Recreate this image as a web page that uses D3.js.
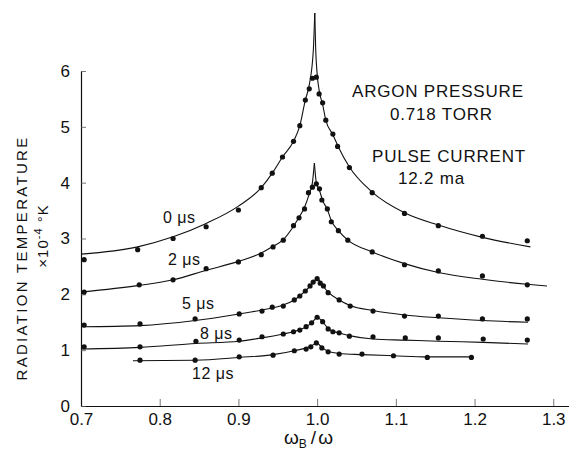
<!DOCTYPE html>
<html>
<head>
<meta charset="utf-8">
<script src="https://cdn.jsdelivr.net/npm/d3@7/dist/d3.min.js"></script>
<style>
  html, body { margin: 0; padding: 0; background: #fff; }
  svg { display: block; }
  text { font-family: "Liberation Sans", Arial, sans-serif; fill: #111; }
</style>
</head>
<body>
<svg id="chart" width="569" height="453"></svg>
<script>
// Axis ticks
const xTicks = [0.7, 0.8, 0.9, 1.0, 1.1, 1.2, 1.3];
const yTicks = [0, 1, 2, 3, 4, 5, 6];

// Delay after the pulse, one entry per curve
const delays = ["0", "2", "5", "8", "12"];

// Measured radiation temperature (×10^4 °K) against ωB/ω
const meas0 = [[0.704,2.62],[0.772,2.80],[0.817,3.00],[0.859,3.21],[0.900,3.51],[0.929,3.91],[0.943,4.17],[0.956,4.46],[0.970,4.74],[0.978,5.02],[0.985,5.48],[0.990,5.68],[0.994,5.87],[0.999,5.89],[1.0025,5.59],[1.007,5.43],[1.011,5.12],[1.020,4.87],[1.026,4.65],[1.041,4.27],[1.070,3.82],[1.111,3.45],[1.154,3.23],[1.210,3.04],[1.267,2.96]];
const meas2 = [[0.704,2.04],[0.774,2.17],[0.817,2.26],[0.859,2.46],[0.900,2.58],[0.929,2.71],[0.944,2.85],[0.957,2.97],[0.970,3.23],[0.977,3.37],[0.984,3.53],[0.989,3.82],[0.994,3.92],[0.999,3.98],[1.003,3.89],[1.006,3.69],[1.013,3.53],[1.018,3.30],[1.027,3.14],[1.039,2.97],[1.070,2.76],[1.111,2.53],[1.154,2.42],[1.210,2.33],[1.267,2.17]];
const meas5 = [[0.704,1.45],[0.775,1.47],[0.845,1.56],[0.901,1.65],[0.930,1.70],[0.943,1.77],[0.957,1.79],[0.971,1.90],[0.978,1.97],[0.985,2.06],[0.991,2.15],[0.995,2.22],[1.000,2.28],[1.004,2.20],[1.008,2.15],[1.014,2.03],[1.028,1.90],[1.042,1.79],[1.071,1.70],[1.111,1.61],[1.154,1.61],[1.210,1.56],[1.267,1.56]];
const meas8 = [[0.704,1.06],[0.775,1.06],[0.846,1.16],[0.901,1.18],[0.930,1.24],[0.957,1.29],[0.970,1.33],[0.978,1.36],[0.986,1.42],[0.993,1.49],[1.000,1.59],[1.007,1.51],[1.014,1.38],[1.020,1.33],[1.028,1.31],[1.041,1.25],[1.071,1.24],[1.112,1.22],[1.154,1.22],[1.211,1.20],[1.267,1.18]];
const meas12 = [[0.775,0.82],[0.845,0.82],[0.901,0.88],[0.944,0.91],[0.971,0.99],[0.986,1.02],[0.992,1.06],[0.999,1.13],[1.006,1.04],[1.014,0.97],[1.028,0.93],[1.057,0.93],[1.097,0.90],[1.140,0.87],[1.196,0.87]];

// Fitted curves through the measurements
const fit0 = [[0.700,2.72],[0.772,2.85],[0.817,3.03],[0.859,3.27],[0.900,3.58],[0.929,3.91],[0.943,4.17],[0.956,4.46],[0.970,4.74],[0.978,5.02],[0.985,5.48],[0.990,5.75],[0.9952,6.38],[0.997,7.04],[0.9982,6.38],[1.000,5.95],[1.003,5.62],[1.007,5.40],[1.011,5.12],[1.020,4.86],[1.027,4.64],[1.041,4.28],[1.070,3.83],[1.111,3.46],[1.154,3.24],[1.210,3.02],[1.271,2.85]];
const fit2 = [[0.700,2.04],[0.774,2.16],[0.817,2.26],[0.859,2.43],[0.900,2.59],[0.929,2.74],[0.944,2.86],[0.957,2.98],[0.970,3.22],[0.977,3.38],[0.984,3.56],[0.990,3.80],[0.994,4.00],[0.9965,4.35],[0.999,4.00],[1.003,3.86],[1.007,3.68],[1.013,3.52],[1.018,3.32],[1.027,3.14],[1.039,2.97],[1.070,2.76],[1.111,2.55],[1.154,2.39],[1.210,2.27],[1.267,2.18],[1.292,2.15]];
const fit5 = [[0.700,1.42],[0.775,1.44],[0.845,1.53],[0.901,1.65],[0.930,1.72],[0.957,1.81],[0.971,1.90],[0.985,2.06],[0.995,2.21],[1.000,2.31],[1.004,2.22],[1.008,2.14],[1.014,2.04],[1.028,1.90],[1.042,1.80],[1.071,1.71],[1.111,1.63],[1.154,1.58],[1.210,1.53],[1.268,1.50]];
const fit8 = [[0.700,1.02],[0.775,1.05],[0.846,1.12],[0.901,1.16],[0.930,1.22],[0.957,1.29],[0.970,1.33],[0.986,1.42],[0.993,1.49],[1.000,1.60],[1.007,1.51],[1.014,1.39],[1.020,1.34],[1.028,1.31],[1.041,1.26],[1.071,1.20],[1.111,1.18],[1.154,1.16],[1.211,1.14],[1.268,1.11]];
const fit12 = [[0.766,0.81],[0.845,0.82],[0.901,0.87],[0.944,0.92],[0.971,0.99],[0.990,1.06],[1.000,1.14],[1.006,1.05],[1.014,0.98],[1.028,0.94],[1.057,0.92],[1.097,0.90],[1.140,0.88],[1.197,0.88]];

const measured = [meas0, meas2, meas5, meas8, meas12];
const fitted = [fit0, fit2, fit5, fit8, fit12];

const svg = d3.select("#chart");

const x = d3.scaleLinear().domain([0.7, 1.32]).range([81, 569]);
const y = d3.scaleLinear().domain([0, 6]).range([406, 71]);

// X axis: ticks pointing up into the plot
const xAxis = svg.append("g")
  .attr("transform", `translate(0,${y(0)})`)
  .call(d3.axisBottom(x).tickValues(xTicks).tickFormat(d3.format(".1f"))
    .tickSizeInner(-7).tickSizeOuter(0).tickPadding(7));
xAxis.select(".domain").attr("stroke", "#111").attr("stroke-width", 1.2);
xAxis.selectAll(".tick line").attr("stroke", "#555").attr("stroke-width", 0.8);
xAxis.selectAll(".tick text").attr("font-size", 17).attr("font-family", "Liberation Sans, Arial, sans-serif").attr("fill", "#111");

// Y axis: ticks pointing right into the plot
const yAxis = svg.append("g")
  .attr("transform", `translate(${x(0.7)},0)`)
  .call(d3.axisLeft(y).tickValues(yTicks).tickFormat(d3.format("d"))
    .tickSizeInner(-5).tickSizeOuter(0).tickPadding(11));
yAxis.select(".domain").attr("stroke", "#111").attr("stroke-width", 1.2);
yAxis.selectAll(".tick line").attr("stroke", "#555").attr("stroke-width", 0.8);
yAxis.selectAll(".tick text").attr("font-size", 17).attr("font-family", "Liberation Sans, Arial, sans-serif").attr("fill", "#111");

// Curves: each is drawn as two branches meeting at the resonance cusp
const line = d3.line().x(d => x(d[0])).y(d => y(d[1])).curve(d3.curveMonotoneX);
fitted.forEach(pts => {
  const peak = d3.maxIndex(pts, d => d[1]);
  [pts.slice(0, peak + 1), pts.slice(peak)].forEach(branch => {
    svg.append("path")
      .attr("d", line(branch))
      .attr("fill", "none")
      .attr("stroke", "#111")
      .attr("stroke-width", 1.1);
  });
});

// Measured points
measured.forEach(pts => {
  svg.append("g").selectAll("circle")
    .data(pts)
    .join("circle")
    .attr("cx", d => x(d[0]))
    .attr("cy", d => y(d[1]))
    .attr("r", 2.6)
    .attr("fill", "#111");
});

// Curve labels
const labelPos = [[163, 223], [168, 265], [182, 309], [200, 339], [192, 379]];
delays.forEach((d, i) => {
  svg.append("text")
    .attr("x", labelPos[i][0])
    .attr("y", labelPos[i][1])
    .attr("font-size", 16)
    .attr("letter-spacing", 0.5)
    .text(`${d} μs`);
});

// Annotation
const notes = [
  ["ARGON PRESSURE", 352, 97],
  ["0.718 TORR", 390, 120],
  ["PULSE CURRENT", 372, 162],
  ["12.2 ma", 398, 184]
];
notes.forEach(([t, tx, ty]) => {
  svg.append("text")
    .attr("x", tx).attr("y", ty)
    .attr("font-size", 17)
    .attr("letter-spacing", 0.8)
    .text(t);
});

// Y axis title
const yTitle = svg.append("g").attr("transform", "translate(27,258) rotate(-90)");
yTitle.append("text")
  .attr("text-anchor", "middle")
  .attr("font-size", 15)
  .attr("letter-spacing", 2.3)
  .text("RADIATION  TEMPERATURE");
const yUnit = svg.append("g").attr("transform", "translate(48,236) rotate(-90)")
  .append("text").attr("text-anchor", "middle").attr("font-size", 15).attr("letter-spacing", 1);
yUnit.append("tspan").text("×10");
yUnit.append("tspan").attr("dy", -6).attr("font-size", 11).text("-4");
yUnit.append("tspan").attr("dy", 6).text(" °K");

// X axis title
const xTitle = svg.append("text")
  .attr("x", 284).attr("y", 444)
  .attr("font-size", 19);
xTitle.append("tspan").text("ω");
xTitle.append("tspan").attr("dy", 4).attr("font-size", 12).text("B");
xTitle.append("tspan").attr("dy", -4).attr("dx", 4).attr("letter-spacing", 2).text("/ω");
</script>
</body>
</html>
